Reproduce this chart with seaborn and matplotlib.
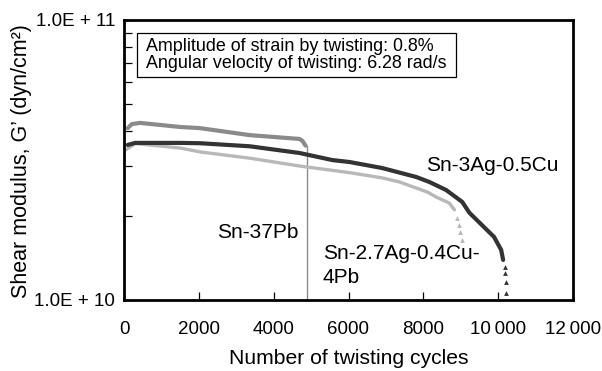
import matplotlib
matplotlib.use("Agg")
import matplotlib.pyplot as plt
import seaborn as sns
import pandas as pd
from matplotlib.patches import Rectangle
from matplotlib.ticker import FixedLocator, FixedFormatter, NullFormatter

# ---------------- data ----------------
pb_cycles = [100, 210, 430, 1490, 2030, 3360, 4690, 4770, 4850]
pb_modulus = [4.11e10, 4.25e10, 4.29e10, 4.15e10, 4.11e10, 3.88e10, 3.76e10, 3.70e10, 3.56e10]
pb_failure_cycle = 4880

cu_cycles = [100, 300, 1500, 2030, 3360, 4690, 5570, 6030, 6900, 7810, 8160,
             8610, 9040, 9230, 9570, 9890, 10080, 10133]
cu_modulus = [3.58e10, 3.64e10, 3.64e10, 3.63e10, 3.54e10, 3.35e10, 3.16e10, 3.11e10,
              2.96e10, 2.75e10, 2.64e10, 2.47e10, 2.24e10, 2.05e10, 1.85e10, 1.68e10,
              1.51e10, 1.39e10]
cu_tail_cycles = [10170, 10190, 10205, 10215]
cu_tail_modulus = [1.31e10, 1.25e10, 1.16e10, 1.06e10]

pbfree_cycles = [50, 300, 1500, 2030, 3360, 4690, 6030, 6900, 7360, 8107, 8347, 8693, 8830]
pbfree_modulus = [3.44e10, 3.62e10, 3.49e10, 3.38e10, 3.21e10, 3.01e10, 2.85e10, 2.73e10,
                  2.64e10, 2.43e10, 2.33e10, 2.22e10, 2.10e10]
pbfree_tail_cycles = [8910, 8960, 8990, 9040]
pbfree_tail_modulus = [1.96e10, 1.85e10, 1.75e10, 1.64e10]

x_ticks = [0, 2000, 4000, 6000, 8000, 10000, 12000]
x_tick_labels = ["0", "2000", "4000", "6000", "8000", "10\u2009000", "12\u2009000"]
y_major = [1e10, 1e11]
y_major_labels = ["1.0E + 10", "1.0E + 11"]
y_minor = [2e10, 3e10, 4e10, 5e10, 6e10, 7e10, 8e10, 9e10]

box_text = "Amplitude of strain by twisting: 0.8%\nAngular velocity of twisting: 6.28 rad/s"

# ---------------- style ----------------
sns.set_style("white")
plt.rcParams["font.family"] = ["Liberation Sans", "DejaVu Sans"]
plt.rcParams["text.color"] = "black"
plt.rcParams["axes.labelcolor"] = "black"
plt.rcParams["xtick.color"] = "black"
plt.rcParams["ytick.color"] = "black"

c_pb = "#8a8a8a"
c_cu = "#333333"
c_free = "#b8b8b8"

fig = plt.figure(figsize=(6.02, 3.71), dpi=100)
ax = fig.add_axes([124 / 602, 1 - 300 / 371, 449 / 602, 280 / 371])

pb_df = pd.DataFrame({"cycles": pb_cycles, "G": pb_modulus})
cu_df = pd.DataFrame({"cycles": cu_cycles, "G": cu_modulus})
cu_tail = pd.DataFrame({"cycles": cu_tail_cycles, "G": cu_tail_modulus})
fr_df = pd.DataFrame({"cycles": pbfree_cycles, "G": pbfree_modulus})
fr_tail = pd.DataFrame({"cycles": pbfree_tail_cycles, "G": pbfree_tail_modulus})

# Sn-37Pb
sns.lineplot(data=pb_df, x="cycles", y="G", ax=ax, color=c_pb, lw=3.0,
             estimator=None, sort=False)
ax.plot([pb_failure_cycle, pb_failure_cycle], [pb_modulus[-1], 1e10], color=c_pb, lw=1.0)
ax.plot([pb_cycles[-1], pb_failure_cycle], [pb_modulus[-1], pb_modulus[-1]], color=c_pb, lw=1.0)

# Sn-2.7Ag-0.4Cu-4Pb
sns.lineplot(data=fr_df, x="cycles", y="G", ax=ax, color=c_free, lw=2.4,
             estimator=None, sort=False)
sns.scatterplot(data=fr_tail, x="cycles", y="G", ax=ax, color=c_free, marker="^",
                s=12, linewidth=0)

# Sn-3Ag-0.5Cu
sns.lineplot(data=cu_df, x="cycles", y="G", ax=ax, color=c_cu, lw=3.0,
             estimator=None, sort=False)
sns.scatterplot(data=cu_tail, x="cycles", y="G", ax=ax, color=c_cu, marker="^",
                s=12, linewidth=0)

# axes
ax.set_yscale("log")
ax.set_xlim(0, 12000)
ax.set_ylim(1e10, 1e11)
ax.xaxis.set_major_locator(FixedLocator(x_ticks))
ax.xaxis.set_major_formatter(FixedFormatter(x_tick_labels))
ax.yaxis.set_major_locator(FixedLocator(y_major))
ax.yaxis.set_major_formatter(FixedFormatter(y_major_labels))
ax.yaxis.set_minor_locator(FixedLocator(y_minor))
ax.yaxis.set_minor_formatter(NullFormatter())
ax.xaxis.set_minor_locator(FixedLocator([]))

ax.tick_params(axis="x", which="major", direction="in", length=6, width=0.9,
               labelsize=13.5, pad=15, colors="black", bottom=True, top=False)
ax.tick_params(axis="y", which="both", direction="in", length=6, width=0.9,
               labelsize=13.5, pad=6.5, colors="black", left=True, right=False)
for s in ax.spines.values():
    s.set_visible(True)
    s.set_linewidth(2.0)
    s.set_color("black")
ax.grid(False)

ax.set_xlabel("Number of twisting cycles", fontsize=15.2, labelpad=8, color="black")
ax.set_ylabel("Shear modulus, G\u2019 (dyn/cm\u00b2)", fontsize=15.5, color="black")
ax.yaxis.set_label_coords(-0.205, 0.495)

# annotations
ax.text(8080, 3.03e10, "Sn-3Ag-0.5Cu", fontsize=15, ha="left", va="center", color="black")
ax.text(2480, 1.74e10, "Sn-37Pb", fontsize=15, ha="left", va="center", color="black")
ax.text(5307, 1.33e10, "Sn-2.7Ag-0.4Cu-\n4Pb", fontsize=15, ha="left", va="center",
        linespacing=1.3, color="black")

# parameter box
ax.add_patch(Rectangle(((137 - 124) / 449, (300 - 77) / 280), (456 - 137) / 449, 44 / 280,
                       transform=ax.transAxes, facecolor="white", edgecolor="black",
                       linewidth=0.9, zorder=4))
ax.text((146 - 124) / 449, (300 - 55) / 280, box_text, transform=ax.transAxes,
        fontsize=12.9, ha="left", va="center", linespacing=0.95, color="black", zorder=5)

fig.savefig("out.png", dpi=100)
